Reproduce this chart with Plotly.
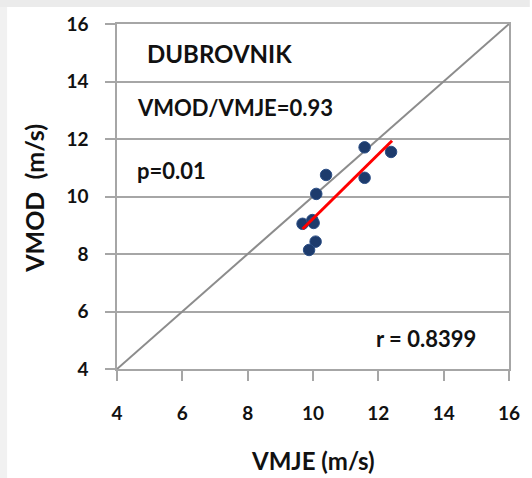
import plotly.graph_objects as go

# ---- data ----
vmje = [11.58, 12.39, 10.40, 11.58, 10.10, 9.68, 9.98, 10.02, 10.08, 9.88]
vmod = [11.71, 11.55, 10.75, 10.65, 10.09, 9.05, 9.18, 9.08, 8.43, 8.14]
fit_x = [9.68, 12.42]
fit_y = [8.87, 11.94]
one_to_one = [4, 16]
tick_vals = [4, 6, 8, 10, 12, 14, 16]
tick_text = ["4", "6", "8", "10", "12", "14", "16"]

W, H = 532, 478
L, R, T, B = 117, 513, 24, 369   # plot area in pixels


def px(x):
    return (x - L) / (R - L)


def py(y):
    return (B - y) / (B - T)


FONT = "Lato, 'Open Sans', sans-serif"

fig = go.Figure()
fig.add_trace(go.Scatter(x=one_to_one, y=one_to_one, mode="lines",
                         line=dict(color="#8c8c8c", width=2), hoverinfo="skip"))
fig.add_trace(go.Scatter(x=vmje, y=vmod, mode="markers",
                         marker=dict(color="#1d3b6c", size=11.5,
                                     line=dict(color="#2c4f86", width=1))))
fig.add_trace(go.Scatter(x=fit_x, y=fit_y, mode="lines",
                         line=dict(color="#ff0000", width=3)))

axis_common = dict(range=[4, 16], tickvals=tick_vals, ticktext=tick_text,
                   ticks="outside", ticklen=10, tickcolor="#a6a6a6", tickwidth=1.5,
                   showline=True, linecolor="#a6a6a6", linewidth=1.5, mirror=True,
                   zeroline=False,
                   tickfont=dict(family=FONT, size=19, color="#111111", weight="bold"))

fig.update_xaxes(**axis_common, showgrid=False, ticklabelstandoff=16)
fig.update_yaxes(**axis_common, showgrid=True, gridcolor="#a6a6a6", gridwidth=1.5,
                 ticklabelstandoff=13)

ann_font = dict(family=FONT, color="#111111", weight="bold")
annotations = [
    dict(text="DUBROVNIK", x=px(145), y=py(53), xanchor="left", yanchor="middle",
         font=dict(size=24, **ann_font)),
    dict(text="VMOD/VMJE=0.93", x=px(135), y=py(107), xanchor="left", yanchor="middle",
         font=dict(size=22, **ann_font)),
    dict(text="p=0.01", x=px(135), y=py(170), xanchor="left", yanchor="middle",
         font=dict(size=22, **ann_font)),
    dict(text="r = 0.8399", x=px(482), y=py(338), xanchor="right", yanchor="middle",
         font=dict(size=22, **ann_font)),
    dict(text="VMJE (m/s)", x=px(315), y=py(460), xanchor="center", yanchor="middle",
         font=dict(size=24, **ann_font)),
    dict(text="VMOD\u00a0\u00a0(m/s)", x=px(33), y=py(198), xanchor="center", yanchor="middle",
         textangle=-90, font=dict(size=25, **ann_font)),
]
for a in annotations:
    a.update(xref="paper", yref="paper", showarrow=False)

fig.update_layout(
    width=W, height=H,
    margin=dict(l=L, r=W - R, t=T, b=H - B, pad=0),
    paper_bgcolor="white",
    plot_bgcolor="white",
    showlegend=False,
    annotations=annotations,
    shapes=[
        dict(type="rect", xref="paper", yref="paper",
             x0=px(-2), x1=px(W + 2), y0=py(7), y1=py(-2),
             fillcolor="#ebebeb", line=dict(width=0), layer="below"),
        dict(type="rect", xref="paper", yref="paper",
             x0=px(-2), x1=px(6), y0=py(7), y1=py(H + 2),
             fillcolor="#f1f1f1", line=dict(width=0), layer="below"),
    ],
)

fig.write_html("out.html", config={"displayModeBar": False},
               post_script="document.body.style.margin='0';document.body.style.overflow='hidden';")
